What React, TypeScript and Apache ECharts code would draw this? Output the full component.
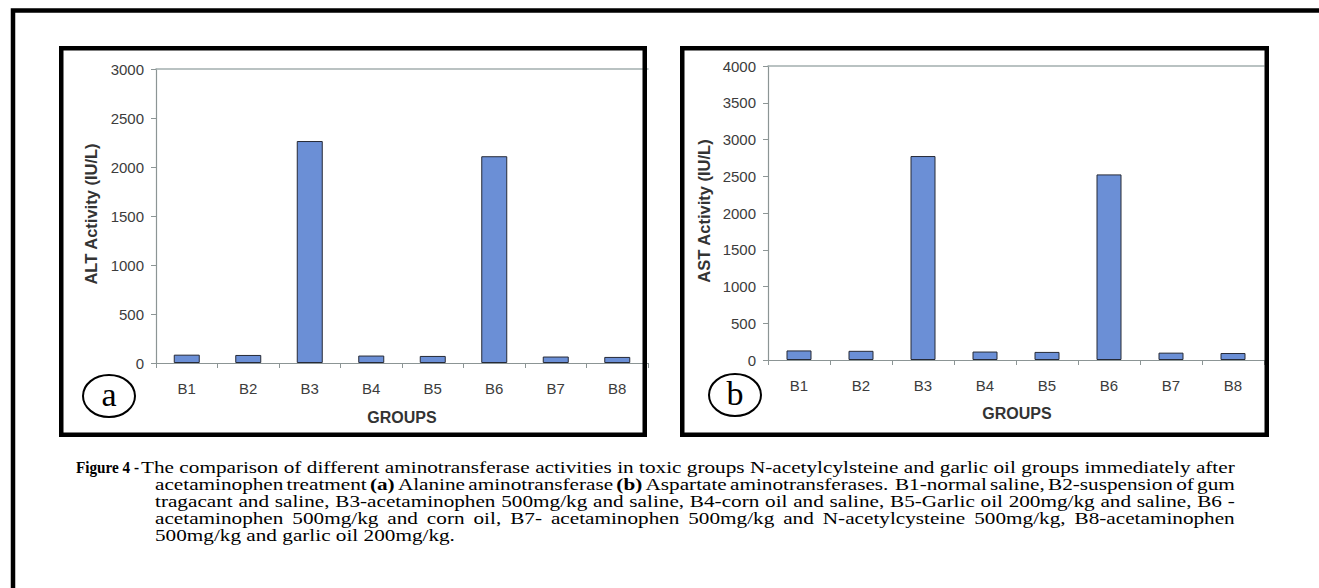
import React, { useEffect, useRef } from "react";
import * as echarts from "echarts";

const groups = ["B1", "B2", "B3", "B4", "B5", "B6", "B7", "B8"];
const altValues = [85, 82, 2265, 76, 72, 2110, 66, 62];
const astValues = [130, 125, 2775, 115, 110, 2525, 100, 95];
const altAxis = { min: 0, max: 3000, step: 500 };
const astAxis = { min: 0, max: 4000, step: 500 };
const altTitle = "ALT Activity (IU/L)";
const astTitle = "AST Activity (IU/L)";
const xTitle = "GROUPS";
const panelLetters = ["a", "b"];
const figureLabel = "Figure 4 -";
const captionLines: string[] = [
  "The comparison of different aminotransferase activities in toxic groups N-acetylcylsteine and garlic oil groups immediately after",
  "acetaminophen treatment *(a)* Alanine aminotransferase *(b)* Aspartate aminotransferases.  B1-normal saline, B2-suspension of gum",
  "tragacant and saline, B3-acetaminophen 500mg/kg and saline, B4-corn oil and saline, B5-Garlic oil 200mg/kg and saline, B6 -",
  "acetaminophen 500mg/kg and corn oil, B7- acetaminophen 500mg/kg and N-acetylcysteine 500mg/kg, B8-acetaminophen",
  "500mg/kg and garlic oil 200mg/kg.",
];

const SERIF = "'Liberation Serif', 'Times New Roman', serif";
const SANS = "'Liberation Sans', Arial, sans-serif";
const CAP_SIZE = 17;

let ctx: CanvasRenderingContext2D | null = null;
function measure(text: string, bold: boolean): number {
  if (!ctx) ctx = document.createElement("canvas").getContext("2d");
  if (!ctx) return text.length * 7;
  ctx.font = `${bold ? "bold " : ""}${CAP_SIZE}px ${SERIF}`;
  return ctx.measureText(text).width;
}

type Tok = { word: string; bold: boolean; spaces: number };
function tokenize(line: string): Tok[] {
  const out: Tok[] = [];
  const re = /(\S+)(\s*)/g;
  let m: RegExpExecArray | null;
  while ((m = re.exec(line))) {
    let w = m[1];
    let bold = false;
    if (w.startsWith("*") && w.endsWith("*") && w.length > 2) {
      bold = true;
      w = w.slice(1, -1);
    }
    out.push({ word: w, bold, spaces: m[2].length });
  }
  return out;
}

function buildCaption(): any[] {
  const els: any[] = [];
  const spaceW = measure(" ", false);
  const lastToks = tokenize(captionLines[captionLines.length - 1]);
  let lastNat = 0;
  lastToks.forEach((t, i) => {
    lastNat += measure(t.word, t.bold);
    if (i < lastToks.length - 1) lastNat += spaceW * t.spaces;
  });
  const s = 300 / lastNat;
  const top = 467;
  const lh = 17;
  const rightEdge = 1235;
  captionLines.forEach((line, li) => {
    const toks = tokenize(line);
    const startX = li === 0 ? 141 : 155;
    const justify = li < captionLines.length - 1;
    let wordSum = 0;
    let spaceCount = 0;
    toks.forEach((t, i) => {
      wordSum += measure(t.word, t.bold);
      if (i < toks.length - 1) spaceCount += t.spaces;
    });
    const g = justify ? ((rightEdge - startX) / s - wordSum) / spaceCount : spaceW;
    const rich: any = {
      n: { fontFamily: SERIF, fontSize: CAP_SIZE, color: "#000", lineHeight: 17 },
      b: { fontFamily: SERIF, fontSize: CAP_SIZE, fontWeight: "bold", color: "#000", lineHeight: 17 },
    };
    let text = "";
    toks.forEach((t, i) => {
      text += `{${t.bold ? "b" : "n"}|${t.word}}`;
      if (i < toks.length - 1) {
        const key = `g${t.spaces}`;
        if (!rich[key]) rich[key] = { width: g * t.spaces, fontSize: CAP_SIZE, fontFamily: SERIF, lineHeight: 17 };
        text += `{${key}| }`;
      }
    });
    els.push({
      type: "text",
      x: startX,
      y: top + li * lh,
      scaleX: s,
      z: 100,
      style: { text, rich, verticalAlign: "middle", align: "left" },
    });
  });
  const fw = measure(figureLabel, true);
  els.push({
    type: "text",
    x: 76,
    y: top,
    scaleX: 63 / fw,
    z: 100,
    style: {
      text: figureLabel,
      fontFamily: SERIF,
      fontSize: CAP_SIZE,
      fontWeight: "bold",
      fill: "#000",
      verticalAlign: "middle",
      align: "left",
    },
  });
  return els;
}

const axisColor = "#8c9595";
const topLineColor = "#a3aeae";
const labelColor = "#3c3c3c";

function xAxes(gridIndex: number) {
  return [
    {
      gridIndex,
      type: "category",
      data: groups,
      axisLine: { show: true, lineStyle: { color: axisColor, width: 1.2 } },
      axisTick: { show: true, length: 5, lineStyle: { color: axisColor } },
      axisLabel: { margin: 18, fontSize: 15, color: labelColor, fontFamily: SANS },
    },
    {
      gridIndex,
      type: "category",
      position: "top",
      data: groups,
      axisLine: { show: true, lineStyle: { color: topLineColor, width: 1.5 } },
      axisTick: { show: false },
      axisLabel: { show: false },
    },
  ];
}

function yAxis(gridIndex: number, ax: { min: number; max: number; step: number }) {
  return {
    gridIndex,
    type: "value",
    min: ax.min,
    max: ax.max,
    interval: ax.step,
    axisLine: { show: true, lineStyle: { color: axisColor, width: 1.2 } },
    axisTick: { show: true, length: 5, lineStyle: { color: axisColor } },
    splitLine: { show: false },
    axisLabel: {
      margin: 12,
      fontSize: 15,
      color: labelColor,
      fontFamily: SANS,
      formatter: (v: number) => String(v),
    },
  };
}

const barItem = { color: "#6b8fd6", borderColor: "#262a36", borderWidth: 1 };

export default function App() {
  const ref = useRef<HTMLDivElement>(null);
  useEffect(() => {
    document.body.style.margin = "0";
    if (!ref.current) return;
    const chart = echarts.init(ref.current, undefined, { renderer: "svg" });
    const frame = (x: number, y: number, w: number, h: number) => ({
      type: "rect",
      z: 100,
      shape: { x, y, width: w, height: h },
      style: { fill: "none", stroke: "#000", lineWidth: 4.5 },
    });
    const circle = (cx: number, cy: number, letter: string) => [
      {
        type: "ellipse",
        z: 100,
        shape: { cx, cy, rx: 26, ry: 21 },
        style: { fill: "#fff", stroke: "#000", lineWidth: 2 },
      },
      {
        type: "text",
        z: 101,
        x: cx,
        y: cy - 2,
        style: {
          text: letter,
          fontFamily: SERIF,
          fontSize: 34,
          fill: "#000",
          align: "center",
          verticalAlign: "middle",
        },
      },
    ];
    const vTitle = (x: number, y: number, text: string) => ({
      type: "text",
      z: 100,
      x,
      y,
      rotation: Math.PI / 2,
      style: {
        text,
        fontFamily: SANS,
        fontSize: 16.5,
        fontWeight: "bold",
        fill: "#333",
        align: "center",
        verticalAlign: "middle",
      },
    });
    const hTitle = (x: number, y: number, text: string) => ({
      type: "text",
      z: 100,
      x,
      y,
      style: {
        text,
        fontFamily: SANS,
        fontSize: 16,
        fontWeight: "bold",
        fill: "#333",
        align: "center",
        verticalAlign: "middle",
      },
    });
    chart.setOption({
      animation: false,
      backgroundColor: "#fff",
      grid: [
        { left: 156, top: 69, width: 492, height: 294 },
        { left: 768, top: 66, width: 496, height: 294 },
      ],
      xAxis: [...xAxes(0), ...xAxes(1)],
      yAxis: [yAxis(0, altAxis), yAxis(1, astAxis)],
      series: [
        { type: "bar", xAxisIndex: 0, yAxisIndex: 0, data: altValues, barWidth: 26, itemStyle: barItem },
        { type: "bar", xAxisIndex: 2, yAxisIndex: 1, data: astValues, barWidth: 25, itemStyle: barItem },
      ],
      graphic: [
        frame(13, 10.5, 1400, 700),
        frame(61.25, 48.25, 583.5, 386.5),
        frame(682.25, 48.25, 584.5, 386.5),
        vTitle(91, 214, altTitle),
        vTitle(704, 211, astTitle),
        hTitle(402, 417, xTitle),
        hTitle(1017, 413, xTitle),
        ...circle(109, 396, panelLetters[0]),
        ...circle(735, 395, panelLetters[1]),
        ...buildCaption(),
      ],
    });
    return () => chart.dispose();
  }, []);
  return (
    <div
      ref={ref}
      style={{ position: "absolute", left: 0, top: 0, width: 1319, height: 588 }}
    />
  );
}
